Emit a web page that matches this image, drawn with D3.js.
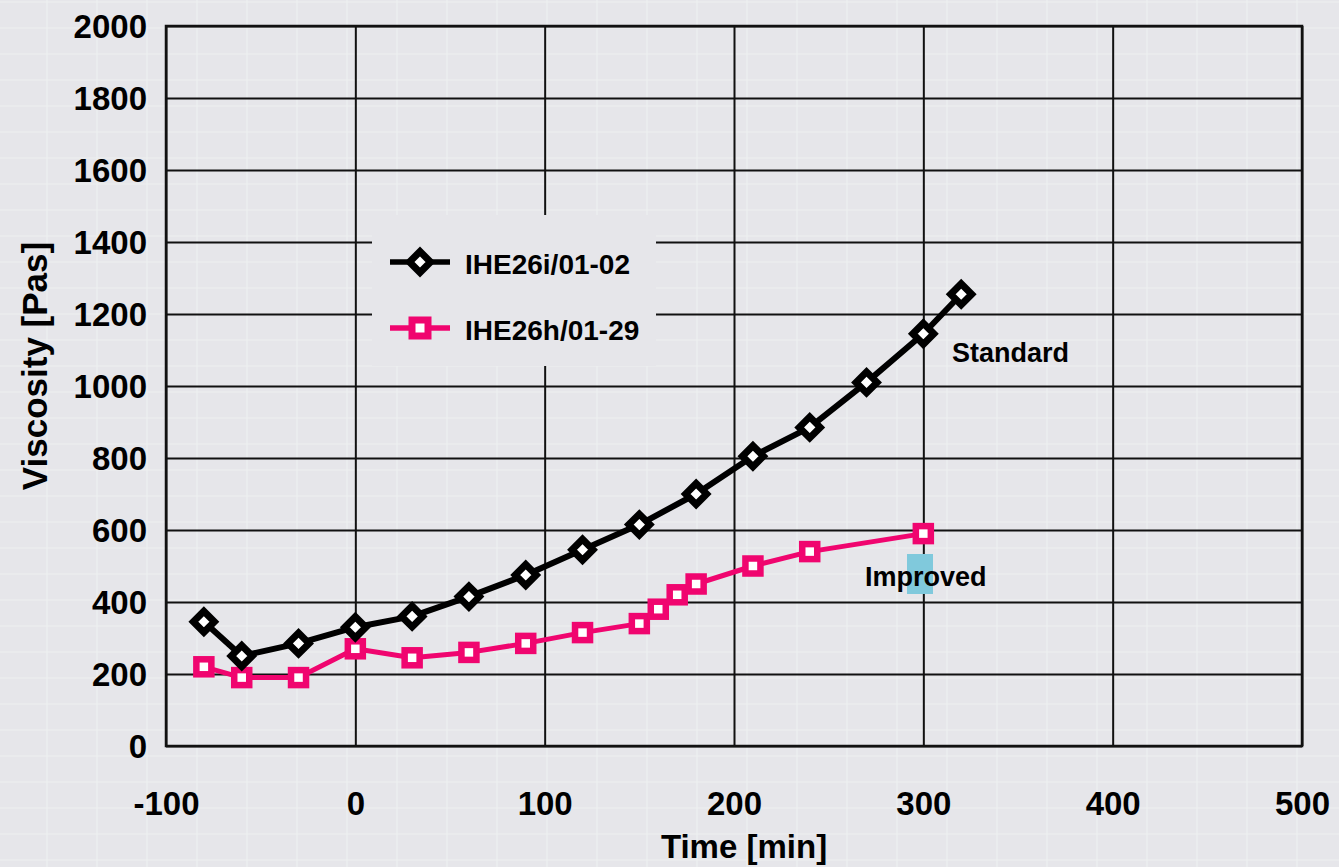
<!DOCTYPE html>
<html>
<head>
<meta charset="utf-8">
<script src="https://cdn.jsdelivr.net/npm/d3@7"></script>
<style>
  html, body { margin: 0; padding: 0; background: #e6e6ea; }
  svg { display: block; }
  text { font-family: "Liberation Sans", Arial, sans-serif; font-weight: bold; fill: #000; }
</style>
</head>
<body>
<svg id="chart" width="1339" height="867"></svg>
<script>
// Viscosity over time for two batches
const timeStandard = [-80, -60, -30, 0, 30, 60, 90, 120, 150, 180, 210, 240, 270, 300, 320];
const viscStandard = [345, 250, 285, 330, 360, 415, 475, 545, 615, 700, 805, 885, 1010, 1145, 1255];

const timeImproved = [-80, -60, -30, 0, 30, 60, 90, 120, 150, 160, 170, 180, 210, 240, 300];
const viscImproved = [220, 190, 190, 270, 245, 260, 285, 315, 340, 380, 420, 450, 500, 540, 590];

const xTicks = [-100, 0, 100, 200, 300, 400, 500];
const yTicks = [0, 200, 400, 600, 800, 1000, 1200, 1400, 1600, 1800, 2000];

const seriesNames = ["IHE26i/01-02", "IHE26h/01-29"];
const annotations = ["Standard", "Improved"];

const W = 1339, H = 867;
const bg = "#e6e6ea";
const pink = "#f0056f";

const svg = d3.select("#chart");

// faint background texture
const tex = svg.append("g").attr("stroke", "#edf0f0").attr("stroke-width", 1.2);
for (let xx = 47; xx < W; xx += 50) tex.append("line").attr("x1", xx).attr("x2", xx).attr("y1", 0).attr("y2", H);
for (let yy = 2; yy < H; yy += 26) tex.append("line").attr("x1", 0).attr("x2", W).attr("y1", yy).attr("y2", yy);

const x = d3.scaleLinear().domain([-100, 500]).range([166, 1302]);
const y = d3.scaleLinear().domain([0, 2000]).range([746, 26]);

const plainNumber = d => String(d);

// gridlines and tick labels
const yAxis = svg.append("g")
  .attr("transform", `translate(${x(-100)},0)`)
  .call(d3.axisLeft(y).tickValues(yTicks).tickFormat(plainNumber)
    .tickSize(-(x(500) - x(-100))).tickPadding(19));
yAxis.select(".domain").remove();
yAxis.selectAll("line").attr("stroke", "#111").attr("stroke-width", 2);
yAxis.selectAll("text").attr("font-size", 33).attr("dy", "0.35em")
  .style("font-family", "'Liberation Sans', Arial, sans-serif").style("font-weight", "bold").attr("fill", "#000");

const xAxis = svg.append("g")
  .attr("transform", `translate(0,${y(0)})`)
  .call(d3.axisBottom(x).tickValues(xTicks).tickFormat(plainNumber)
    .tickSize(-(y(0) - y(2000))).tickPadding(46));
xAxis.select(".domain").remove();
xAxis.selectAll("line").attr("stroke", "#111").attr("stroke-width", 2);
xAxis.selectAll("text").attr("font-size", 33).attr("dy", "0.71em")
  .style("font-family", "'Liberation Sans', Arial, sans-serif").style("font-weight", "bold").attr("fill", "#000");

// plot frame
svg.append("rect")
  .attr("x", x(-100)).attr("y", y(2000))
  .attr("width", x(500) - x(-100)).attr("height", y(0) - y(2000))
  .attr("fill", "none").attr("stroke", "#111").attr("stroke-width", 2.5);

// axis titles
svg.append("text")
  .attr("x", 744).attr("y", 858)
  .attr("text-anchor", "middle").attr("font-size", 33)
  .text("Time [min]");
svg.append("text")
  .attr("transform", "translate(47,366) rotate(-90)")
  .attr("text-anchor", "middle").attr("font-size", 35)
  .text("Viscosity [Pas]");

// legend panel hides gridlines behind it
const legend = svg.append("g");
legend.append("rect")
  .attr("x", 372).attr("y", 215).attr("width", 284).attr("height", 151)
  .attr("fill", bg);

const line = d3.line().x(d => x(d[0])).y(d => y(d[1]));
const ptsStandard = timeStandard.map((t, i) => [t, viscStandard[i]]);
const ptsImproved = timeImproved.map((t, i) => [t, viscImproved[i]]);

const diamond = "M0,-10.5 L10.5,0 L0,10.5 L-10.5,0 Z";

// Improved series
svg.append("path").datum(ptsImproved)
  .attr("d", line).attr("fill", "none")
  .attr("stroke", pink).attr("stroke-width", 5).attr("stroke-linejoin", "round");
svg.append("g").selectAll("rect").data(ptsImproved).join("rect")
  .attr("x", d => x(d[0]) - 7.5).attr("y", d => y(d[1]) - 7.5)
  .attr("width", 15).attr("height", 15)
  .attr("fill", "#fff").attr("stroke", pink).attr("stroke-width", 6.5);

// Standard series
svg.append("path").datum(ptsStandard)
  .attr("d", line).attr("fill", "none")
  .attr("stroke", "#000").attr("stroke-width", 6).attr("stroke-linejoin", "round");
svg.append("g").selectAll("path").data(ptsStandard).join("path")
  .attr("transform", d => `translate(${x(d[0])},${y(d[1])})`)
  .attr("d", diamond)
  .attr("fill", "#fff").attr("stroke", "#000").attr("stroke-width", 7);

// legend entries
const legendRows = [
  { name: seriesNames[0], color: "#000", yPos: 262, shape: "diamond" },
  { name: seriesNames[1], color: pink, yPos: 328, shape: "square" }
];
legendRows.forEach(r => {
  legend.append("line")
    .attr("x1", 390).attr("x2", 450).attr("y1", r.yPos).attr("y2", r.yPos)
    .attr("stroke", r.color).attr("stroke-width", 5.5);
  if (r.shape === "diamond") {
    legend.append("path").attr("transform", `translate(420,${r.yPos})`)
      .attr("d", diamond).attr("fill", "#fff").attr("stroke", r.color).attr("stroke-width", 7);
  } else {
    legend.append("rect").attr("x", 420 - 8).attr("y", r.yPos - 8)
      .attr("width", 16).attr("height", 16)
      .attr("fill", "#fff").attr("stroke", r.color).attr("stroke-width", 7);
  }
  legend.append("text")
    .attr("x", 465).attr("y", r.yPos + 2).attr("dy", "0.35em")
    .attr("font-size", 28).text(r.name);
});

// series annotations
svg.append("rect")
  .attr("x", 907).attr("y", 554).attr("width", 26).attr("height", 40)
  .attr("fill", "#80c9dc");
svg.append("text")
  .attr("x", 952).attr("y", 362).attr("font-size", 27)
  .text(annotations[0]);
svg.append("text")
  .attr("x", 865).attr("y", 586).attr("font-size", 27)
  .text(annotations[1]);
</script>
</body>
</html>
